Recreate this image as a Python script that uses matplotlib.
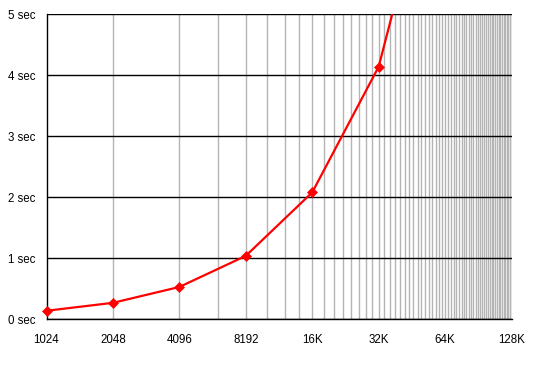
import numpy as np
import matplotlib
matplotlib.use("Agg")
import matplotlib.pyplot as plt

plt.rcParams['font.family'] = ['Liberation Sans', 'DejaVu Sans']

sizes = [1024, 2048, 4096, 8192, 16384, 32768, 65536]
seconds = [0.14, 0.27, 0.53, 1.04, 2.08, 4.14, 8.35]
x_ticks = [1024, 2048, 4096, 8192, 16384, 32768, 65536, 131072]
x_labels = ["1024", "2048", "4096", "8192", "16K", "32K", "64K", "128K"]
y_ticks = [0, 1, 2, 3, 4, 5]
y_labels = ["0 sec", "1 sec", "2 sec", "3 sec", "4 sec", "5 sec"]
minor_grid = list(range(2048, 131072 + 1, 2048))

W, H = 541, 371
fig = plt.figure(figsize=(W / 100, H / 100), dpi=100)
ax = fig.add_axes([46.5 / W, (H - 319.3) / H, (511.5 - 46.5) / W, (319.3 - 14.3) / H])

ax.set_xscale('log', base=2)
ax.set_xlim(1024, 131072)
ax.set_ylim(0, 5)

for g in minor_grid:
    ax.axvline(g, color='#b4b4b4', lw=1.0, zorder=1)
for t in y_ticks:
    ax.axhline(t, color='black', lw=1.0, zorder=2)

x = np.array(sizes)
y = np.array(seconds)
ax.plot(x, y, color='#ff0000', lw=1.6, zorder=3, solid_joinstyle='round')
m = y <= 5
ax.plot(x[m], y[m], linestyle='none', marker='D', ms=5, color='#ff0000',
        mec='#ff0000', mew=0.5, zorder=4, clip_on=False)

ax.set_xticks(x_ticks)
ax.set_xticklabels(x_labels)
ax.xaxis.set_minor_locator(matplotlib.ticker.NullLocator())
ax.set_yticks(y_ticks)
ax.set_yticklabels(y_labels)
ax.tick_params(axis='both', length=0, labelsize=8.3, colors='black')
ax.tick_params(axis='x', pad=10.5)
ax.tick_params(axis='y', pad=8)

for s in ['top', 'right']:
    ax.spines[s].set_visible(False)
ax.spines['left'].set_color('black')
ax.spines['bottom'].set_color('black')
ax.spines['left'].set_linewidth(1.0)
ax.spines['bottom'].set_linewidth(1.0)
ax.spines['left'].set_zorder(2.5)

fig.savefig('out.png', dpi=100)
